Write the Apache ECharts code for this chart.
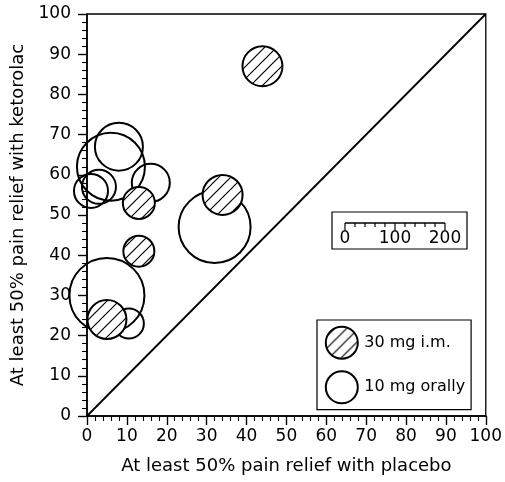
<!DOCTYPE html>
<html>
<head>
<meta charset="utf-8">
<script src="https://cdn.jsdelivr.net/npm/echarts@6/dist/echarts.min.js"></script>
<style>
html,body{margin:0;padding:0;background:#fff;}
#chart{width:505px;height:482px;}
</style>
</head>
<body>
<div id="chart"></div>
<script>
// ---- data ----
const imLabel = '30 mg i.m.';
const oralLabel = '10 mg orally';
const imPlacebo = [44, 34, 13, 13, 5];
const imKetorolac = [87, 55, 53, 41, 24];
const imPatients = [80, 80, 64, 62, 78];
const oralPlacebo = [8, 6, 3, 1, 16, 32, 5, 10.5];
const oralKetorolac = [67, 62, 57, 56, 58, 47, 30, 23];
const oralPatients = [96, 136, 68, 68, 76, 144, 150, 60];
const axisTicks = [0, 10, 20, 30, 40, 50, 60, 70, 80, 90, 100];
const scaleTicks = [0, 100, 200];
const xTitle = 'At least 50% pain relief with placebo';
const yTitle = 'At least 50% pain relief with ketorolac';

// ---- styling ----
const PX_PER_PATIENT = 0.5; // bubble diameter in px per patient
const FONT = '"DejaVu Sans", Verdana, sans-serif';

function hatchCanvas() {
  const s = 12;
  const c = document.createElement('canvas');
  c.width = s; c.height = s;
  const g = c.getContext('2d');
  g.fillStyle = '#fff';
  g.fillRect(0, 0, s, s);
  g.strokeStyle = '#000';
  g.lineWidth = 1.2;
  g.beginPath();
  g.moveTo(0, s); g.lineTo(s, 0);
  g.moveTo(-s / 2, s / 2); g.lineTo(s / 2, -s / 2);
  g.moveTo(s / 2, s * 1.5); g.lineTo(s * 1.5, s / 2);
  g.stroke();
  return c;
}
const hatch = {image: hatchCanvas(), repeat: 'repeat'};

const zip = (xs, ys, ns) => xs.map((x, i) => [x, ys[i], ns[i]]);

function bubbleRenderer(fill) {
  return function (params, api) {
    const c = api.coord([api.value(0), api.value(1)]);
    const r = api.value(2) * PX_PER_PATIENT / 2;
    return {
      type: 'circle',
      shape: {cx: c[0], cy: c[1], r: r},
      style: {fill: fill, stroke: '#000', lineWidth: 2}
    };
  };
}

const chart = echarts.init(document.getElementById('chart'), null, {renderer: 'canvas'});

// scale bar (patients) graphic
const sbX0 = 345, sbY = 223, sbMax = 200;
const scaleGraphics = [
  {type: 'rect', shape: {x: 332, y: 212, width: 135, height: 37}, style: {fill: '#fff', stroke: '#000', lineWidth: 1.2}, z: 10},
  {type: 'line', shape: {x1: sbX0, y1: sbY, x2: sbX0 + sbMax * PX_PER_PATIENT, y2: sbY}, style: {stroke: '#000', lineWidth: 1.4}, z: 11}
];
for (let v = 0; v <= sbMax; v += 20) {
  const major = scaleTicks.indexOf(v) >= 0;
  const x = sbX0 + v * PX_PER_PATIENT;
  scaleGraphics.push({type: 'line', shape: {x1: x, y1: sbY, x2: x, y2: sbY + (major ? 7 : 4)}, style: {stroke: '#000', lineWidth: 1.2}, z: 11});
}
scaleTicks.forEach(v => {
  scaleGraphics.push({type: 'text', x: sbX0 + v * PX_PER_PATIENT, y: 239, style: {text: String(v), font: '17px ' + FONT, fill: '#000', textAlign: 'center', textVerticalAlign: 'middle'}, z: 11});
});

const axisCommon = {
  type: 'value', min: 0, max: 100, interval: 10,
  axisLine: {show: true, onZero: false, lineStyle: {color: '#000', width: 1.6}},
  axisTick: {show: true, inside: false, length: 9, lineStyle: {color: '#000', width: 1.4}},
  minorTick: {show: true, splitNumber: 5, length: 5, lineStyle: {color: '#000', width: 1.1}},
  splitLine: {show: false},
  nameLocation: 'middle',
  nameTextStyle: {fontSize: 18, color: '#000', fontFamily: FONT}
};

chart.setOption({
  animation: false,
  backgroundColor: '#fff',
  grid: {left: 87, top: 14, width: 400, height: 402, show: true, borderColor: '#000', borderWidth: 1.3, backgroundColor: 'transparent'},
  xAxis: Object.assign({}, axisCommon, {
    name: xTitle, nameGap: 41,
    axisLabel: {fontSize: 17, color: '#000', fontFamily: FONT, margin: 12, formatter: v => axisTicks.indexOf(v) >= 0 ? String(v) : ''}
  }),
  yAxis: Object.assign({}, axisCommon, {
    name: yTitle, nameGap: 50,
    axisLabel: {fontSize: 17, color: '#000', fontFamily: FONT, margin: 16, formatter: v => axisTicks.indexOf(v) >= 0 ? String(v) : ''}
  }),
  legend: {
    left: 317, top: 320, orient: 'vertical',
    itemWidth: 35, itemHeight: 32, itemGap: 10.6,
    padding: [5.7, 6, 5.4, 7.8],
    borderColor: '#000', borderWidth: 1.2, backgroundColor: '#fff',
    selectedMode: false,
    textStyle: {fontSize: 16, color: '#000', fontFamily: FONT},
    data: [{name: imLabel, icon: 'circle'}, {name: oralLabel, icon: 'circle'}],
    z: 10
  },
  graphic: scaleGraphics,
  series: [
    {
      type: 'line', data: [[0, 0], [100, 100]], symbol: 'none', silent: true,
      lineStyle: {color: '#000', width: 1.8}, z: 1
    },
    {
      name: oralLabel, type: 'custom', data: zip(oralPlacebo, oralKetorolac, oralPatients),
      renderItem: bubbleRenderer('rgba(255,255,255,0)'),
      itemStyle: {color: 'rgba(255,255,255,0)', borderColor: '#000', borderWidth: 2},
      encode: {x: 0, y: 1}, silent: true, z: 3
    },
    {
      name: imLabel, type: 'custom', data: zip(imPlacebo, imKetorolac, imPatients),
      renderItem: bubbleRenderer(hatch),
      itemStyle: {color: hatch, borderColor: '#000', borderWidth: 2},
      encode: {x: 0, y: 1}, silent: true, z: 4
    }
  ]
});
</script>
</body>
</html>
